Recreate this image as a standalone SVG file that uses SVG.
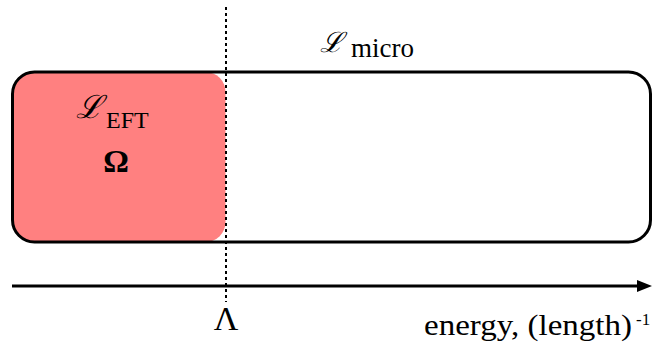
<svg xmlns="http://www.w3.org/2000/svg" width="652" height="345" viewBox="0 0 652 345">
<style>
.t{font-family:'Liberation Serif','Times New Roman',serif;fill:#000}
</style>
<rect width="652" height="345" fill="#fff"/>
<g id="eft">
<rect x="12.5" y="72" width="213" height="170" rx="20" fill="#ff8080"/>
<text x="76" y="118" font-size="32" font-style="italic" font-family="DejaVu Serif, serif">ℒ</text>
<text class="t" x="106" y="128" font-size="24">EFT</text>
<text class="t" x="116" y="172" font-size="32" font-weight="bold" text-anchor="middle">Ω</text>
</g>
<g id="micro">
<rect x="12.5" y="72" width="638" height="170" rx="22" fill="none" stroke="#000" stroke-width="3"/>
<text x="320" y="52" font-size="28" font-style="italic" font-family="DejaVu Serif, serif">ℒ</text>
<text class="t" x="351" y="57" font-size="27">micro</text>
</g>
<g id="connectors">
<line x1="226" y1="7" x2="226" y2="302" stroke="#000" stroke-width="2" stroke-dasharray="3,3"/>
<line x1="12" y1="286" x2="640" y2="286" stroke="#000" stroke-width="3"/>
<path d="M637,280 L652,286 L637,292 Z" fill="#000"/>
</g>
<g id="labels">
<text class="t" x="226" y="330" font-size="34" text-anchor="middle">Λ</text>
<text class="t" x="424" y="335" font-size="29" textLength="208" lengthAdjust="spacingAndGlyphs">energy, (length)</text>
<text class="t" x="636" y="325" font-size="17">-1</text>
</g>
</svg>
